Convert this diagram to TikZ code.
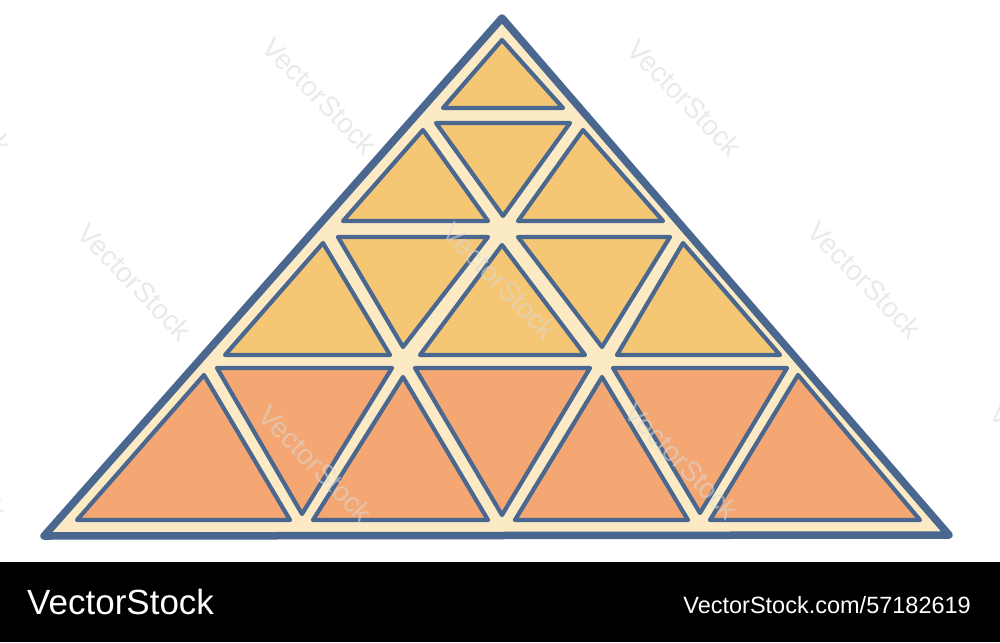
\documentclass[tikz,border=0pt]{standalone}
\usepackage{fontspec}
\setmainfont{Liberation Sans}
\definecolor{edgeblue}{HTML}{4A6790}
\definecolor{cream}{HTML}{FCEAC4}
\definecolor{sand}{HTML}{F5C774}
\definecolor{peach}{HTML}{F4A772}
\tikzset{
  outertri/.style={draw=edgeblue, fill=cream, line width=7.5pt, line join=round},
  uppertri/.style={draw=edgeblue, fill=sand, line width=4.2pt, line join=round},
  lowertri/.style={draw=edgeblue, fill=peach, line width=4.2pt, line join=round},
  wm/.style={font=\fontsize{28}{28}\selectfont, text=white!70!gray, text opacity=0.55, rotate=-46, inner sep=0pt},
  barlabel/.style={text=white, inner sep=0pt}
}
\begin{document}
\begin{tikzpicture}[x=1pt,y=-1pt]
\useasboundingbox (0,0) rectangle (1000,642);
\fill[white] (0,0) rectangle (1000,642);
% outer pyramid
\path[outertri] (502,18) -- (44,536) -- (949,535) -- cycle;
% row 1
\path[uppertri] (502,40) -- (443,108) -- (563,108) -- cycle;
% row 2
\path[uppertri] (423,130) -- (343,221) -- (488,221) -- cycle;
\path[uppertri] (436,123) -- (570,123) -- (503,216) -- cycle;
\path[uppertri] (583,130) -- (518,221) -- (663,221) -- cycle;
% row 3
\path[uppertri] (323,243) -- (225,355) -- (390,355) -- cycle;
\path[uppertri] (338,237) -- (488,237) -- (403,347) -- cycle;
\path[uppertri] (502,245) -- (420,355) -- (585,355) -- cycle;
\path[uppertri] (518,237) -- (670,237) -- (602,347) -- cycle;
\path[uppertri] (683,243) -- (617,355) -- (780,355) -- cycle;
% row 4
\path[lowertri] (204,375) -- (77,520) -- (290,520) -- cycle;
\path[lowertri] (217,368) -- (392,368) -- (302,514) -- cycle;
\path[lowertri] (403,377) -- (313,520) -- (488,520) -- cycle;
\path[lowertri] (415,368) -- (590,368) -- (502,515) -- cycle;
\path[lowertri] (602,377) -- (515,520) -- (688,520) -- cycle;
\path[lowertri] (613,368) -- (787,368) -- (700,513) -- cycle;
\path[lowertri] (798,375) -- (710,520) -- (920,520) -- cycle;
% watermarks
\begin{scope}
\clip (0,0) rectangle (1000,560);
\node[wm] (w1) at (-45,96) {VectorStock};
\node[wm] (w2) at (320,96) {VectorStock};
\node[wm] (w3) at (685,98) {VectorStock};
\node[wm] (w4) at (135,282) {VectorStock};
\node[wm] (w5) at (500,281) {VectorStock};
\node[wm] (w6) at (865,280) {VectorStock};
\node[wm] (w7) at (-50,462) {VectorStock};
\node[wm] (w8) at (316,464) {VectorStock};
\node[wm] (w9) at (682,461) {VectorStock};
\node[wm] (w10) at (1047,462) {VectorStock};
\end{scope}
% bottom bar
\fill[black] (0,562) rectangle (1000,642);
\node[barlabel, anchor=base west, font=\fontsize{35}{36}\selectfont] (brand) at (27,614) {VectorStock};
\node[barlabel, anchor=base east, font=\fontsize{23.5}{24}\selectfont] (ref) at (971,613) {VectorStock.com/57182619};
\end{tikzpicture}
\end{document}
